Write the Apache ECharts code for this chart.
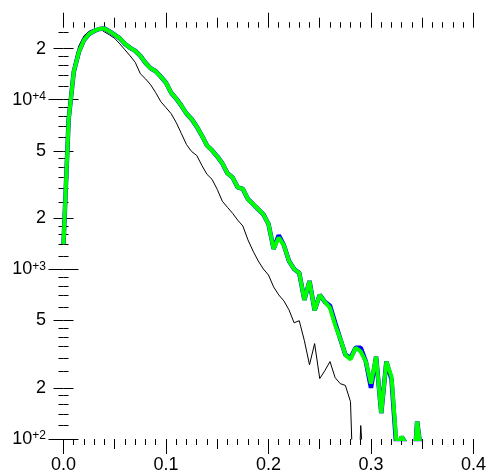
<!DOCTYPE html>
<html><head><meta charset="utf-8">
<script src="https://cdn.jsdelivr.net/npm/echarts@6/dist/echarts.min.js"></script>
<style>html,body{margin:0;padding:0;background:#fff}#c{width:489px;height:474px}</style>
</head><body><div id="c"></div>
<script>
const xBins = [0,0.005,0.01,0.015,0.02,0.025,0.03,0.035,0.04,0.045,0.05,0.055,0.06,0.065,0.07,0.075,0.08,0.085,0.09,0.095,
  0.1,0.105,0.11,0.115,0.12,0.125,0.13,0.135,0.14,0.145,0.15,0.155,0.16,0.165,0.17,0.175,0.18,0.185,0.19,0.195,
  0.2,0.205,0.21,0.215,0.22,0.225,0.23,0.235,0.24,0.245,0.25,0.255,0.26,0.265,0.27,0.275,0.28,0.285,0.29,0.295,
  0.3,0.305,0.31,0.315,0.32,0.325,0.33,0.335,0.34,0.345,0.35];
const blackCounts = [1420,8000,15800,20800,23800,25300,26050,26300,25070,24080,22960,21320,19660,18130,16600,14210,13280,12250,10990,9730,
  8980,8280,7330,6320,5440,4950,4690,4100,3630,3390,2960,2520,2320,2140,1950,1800,1490,1280,1120,1005,
  926,788,707,652,577,484,498,380,274,365,227,253,286,230,212,207,166,20,120,40];
const blueCounts = [1409,7630,14600,19130,22500,24400,25420,26110,26290,25250,24080,22960,21320,20200,19390,18130,16490,15310,14700,13650,
  12580,10990,10140,9220,8280,7680,6940,6150,5370,5020,4630,4210,3680,3480,3040,2980,2590,2420,2260,2110,
  1850,1320,1590,1390,1120,1005,952,661,854,573,707,643,610,485,390,314,300,345,345,286,
  200,306,142,286,225,85,103,92,45,127,75];
const greenCounts = [1409,7630,14600,19130,22500,24400,25420,26110,26290,25250,24080,22960,21320,20200,19390,18130,16490,15310,14700,13650,
  12580,10990,10140,9220,8280,7680,6940,6150,5370,5020,4630,4210,3680,3480,3040,2980,2590,2420,2260,2110,
  1850,1320,1540,1390,1120,1005,952,661,854,573,707,643,593,471,390,314,294,345,327,286,
  212,306,142,286,233,92,103,92,45,127,75];

const xMajorTicks = [0,0.1,0.2,0.3,0.4];
const xMidTicks = [0.05,0.15,0.25,0.35];
const xMinorTicks = [0.01,0.02,0.03,0.04,0.06,0.07,0.08,0.09,0.11,0.12,0.13,0.14,0.16,0.17,0.18,0.19,
  0.21,0.22,0.23,0.24,0.26,0.27,0.28,0.29,0.31,0.32,0.33,0.34,0.36,0.37,0.38,0.39];
const yLabelTicks = [100,200,500,1000,2000,5000,10000,20000];
const yMajorTicks = [100,1000,10000];
const yMidTicks = [200,500,2000,5000,20000];
const yMinorTicks = [120,140,160,180,250,300,350,400,450,600,700,800,900,
  1200,1400,1600,1800,2500,3000,3500,4000,4500,6000,7000,8000,9000,
  12000,14000,16000,18000,25000];
const X_MIN = 0, X_MAX = 0.4, Y_MIN = 100, Y_MAX = 26570;

const FONT = 'Liberation Sans';
function xAxisDef(pos, ticks, len, withLabels) {
  return {
    type: 'value', position: pos, min: X_MIN, max: X_MAX,
    axisLine: {show: false}, splitLine: {show: false},
    axisTick: {show: true, customValues: ticks, length: len, lineStyle: {color: '#000', width: 1}},
    axisLabel: withLabels ? {
      show: true, customValues: xMajorTicks, margin: 17, color: '#000',
      fontFamily: FONT, fontSize: 18, formatter: v => v.toFixed(1)
    } : {show: false}
  };
}
function yAxisDef(pos, ticks, len, withLabels) {
  return {
    type: 'log', position: pos, min: Y_MIN, max: Y_MAX, logBase: 10,
    axisLine: {show: false}, splitLine: {show: false}, minorTick: {show: false},
    axisTick: {show: true, customValues: ticks, length: len, lineStyle: {color: '#000', width: 1}},
    axisLabel: withLabels ? {
      show: true, customValues: yLabelTicks, margin: 17.5, color: '#000',
      fontFamily: FONT, fontSize: 18,
      formatter: v => {
        const e = Math.floor(Math.log10(v) + 1e-9);
        const m = Math.round(v / Math.pow(10, e));
        if (m === 1) return '{a|10}{b|+' + e + '}';
        return String(m);
      },
      rich: {
        a: {fontFamily: FONT, fontSize: 18, color: '#000'},
        b: {fontFamily: FONT, fontSize: 12, color: '#000', verticalAlign: 'top'}
      }
    } : {show: false}
  };
}
const mk = arr => arr.map((v, i) => [xBins[i], v]);
const chart = echarts.init(document.getElementById('c'), null, {renderer: 'canvas'});
chart.setOption({
  animation: false,
  backgroundColor: '#fff',
  grid: {left: 63.5, right: 12.3, top: 27.7, bottom: 33.3, containLabel: false},
  xAxis: [
    xAxisDef('bottom', xMajorTicks, 15, true),
    xAxisDef('bottom', xMidTicks, 10, false),
    xAxisDef('bottom', xMinorTicks, 6, false),
    xAxisDef('top', xMajorTicks, 15, false),
    xAxisDef('top', xMidTicks, 10, false),
    xAxisDef('top', xMinorTicks, 5.5, false)
  ],
  yAxis: [
    yAxisDef('left', yMajorTicks, 15, true),
    yAxisDef('left', yMidTicks, 10, false),
    yAxisDef('left', yMinorTicks, 5, false),
    yAxisDef('right', yMajorTicks, 15, false),
    yAxisDef('right', yMidTicks, 10, false),
    yAxisDef('right', yMinorTicks, 5, false)
  ],
  series: [
    {type: 'line', name: 'black', data: mk(blackCounts), showSymbol: false, clip: true,
     lineStyle: {color: '#000', width: 1}, itemStyle: {color: '#000'}, z: 2},
    {type: 'line', name: 'blue', data: mk(blueCounts), showSymbol: false, clip: true,
     lineStyle: {color: '#0000ff', width: 4.5}, itemStyle: {color: '#0000ff'}, z: 3},
    {type: 'line', name: 'green', data: mk(greenCounts), showSymbol: false, clip: true,
     lineStyle: {color: '#00ff00', width: 4}, itemStyle: {color: '#00ff00'}, z: 4}
  ]
});
</script></body></html>
